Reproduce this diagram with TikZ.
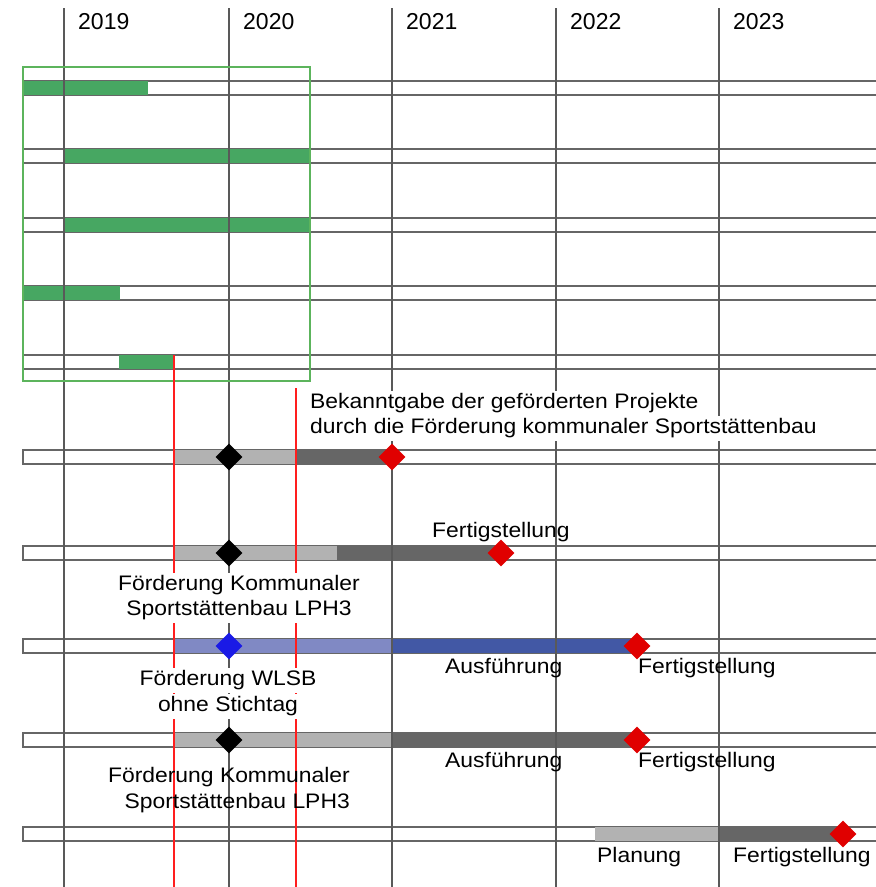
\documentclass[tikz,border=0pt]{standalone}
\usepackage{fontspec}
\setmainfont{Liberation Sans}
\newfontfamily\lblfont{Liberation Sans}[FakeStretch=1.09]
\usetikzlibrary{shapes.geometric}

\definecolor{barGreen}{RGB}{71,167,98}
\definecolor{boxGreen}{RGB}{92,180,92}
\definecolor{planGray}{RGB}{178,178,178}
\definecolor{workGray}{RGB}{102,102,102}
\definecolor{planBlue}{RGB}{128,137,196}
\definecolor{workBlue}{RGB}{66,88,165}
\definecolor{msRed}{RGB}{224,0,0}
\definecolor{msBlue}{RGB}{26,26,230}
\definecolor{cutRed}{RGB}{255,30,30}

\begin{document}
\begin{tikzpicture}[x=1pt,y=-1pt,
  row/.style={draw=black!60,line width=1.1pt,fill=white},
  yearline/.style={draw=black!65,line width=1.1pt},
  cutline/.style={draw=cutRed,line width=1.4pt},
  milestone/.style={diamond,inner sep=0pt,minimum size=27pt},
  lbl/.style={font=\lblfont\fontsize{21}{25}\selectfont,inner sep=0pt,text height=17pt,text depth=8pt},
  masked/.style={lbl,fill=white},
  yr/.style={font=\fontsize{23}{27}\selectfont,inner sep=0pt,anchor=base west}]
\useasboundingbox (0,0) rectangle (876,887);

% rows
\foreach \y in {88,156,225,293,362,457,553,646,740,834}
  \draw[row] (23,\y-7) rectangle (890,\y+7);

% bars
\fill[barGreen] (23,81) rectangle (148,95);
\fill[barGreen] (64,149) rectangle (310,163);
\fill[barGreen] (64,218) rectangle (310,232);
\fill[barGreen] (23,286) rectangle (120,300);
\fill[barGreen] (119,355) rectangle (174,369);
\fill[planGray] (174,450) rectangle (296,464);
\fill[workGray] (296,450) rectangle (392,464);
\fill[planGray] (174,546) rectangle (337,560);
\fill[workGray] (337,546) rectangle (501,560);
\fill[planBlue] (174,639) rectangle (392,653);
\fill[workBlue] (392,639) rectangle (637,653);
\fill[planGray] (174,733) rectangle (392,747);
\fill[workGray] (392,733) rectangle (637,747);
\fill[planGray] (595,827) rectangle (719,841);
\fill[workGray] (719,827) rectangle (843,841);

% years
\foreach \x/\n in {64/2019,229/2020,392/2021,556/2022,719/2023} {
  \draw[yearline] (\x,8) -- (\x,887);
  \node[yr] (y\n) at (\x+14,29) {\n};
}

\draw[boxGreen,line width=1.5pt] (23,67) rectangle (310,381);
\draw[cutline] (174,355) -- (174,887);
\draw[cutline] (296,388) -- (296,887);

% labels
\node[masked,anchor=base west] (bek1) at (310,408) {Bekanntgabe der geförderten Projekte};
\node[masked,anchor=base west] (bek2) at (310,433) {durch die Förderung kommunaler Sportstättenbau};
\node[lbl,anchor=base west] (fert2) at (432,537) {Fertigstellung};
\node[masked,anchor=base] (kom1) at (239,590) {Förderung Kommunaler};
\node[masked,anchor=base] (kom2) at (239,615) {Sportstättenbau LPH3};
\node[masked,anchor=base] (wlsb1) at (228,685) {Förderung WLSB};
\node[masked,anchor=base] (wlsb2) at (228,711) {ohne Stichtag};
\node[lbl,anchor=base west] (aus3) at (445,673) {Ausführung};
\node[lbl,anchor=base west] (fert3) at (638,673) {Fertigstellung};
\node[lbl,anchor=base west] (aus4) at (445,767) {Ausführung};
\node[lbl,anchor=base west] (fert4) at (638,767) {Fertigstellung};
\node[lbl,anchor=base east] (kom3) at (350,782) {Förderung Kommunaler};
\node[lbl,anchor=base east] (kom4) at (350,808) {Sportstättenbau LPH3};
\node[lbl,anchor=base west] (plan5) at (597,862) {Planung};
\node[lbl,anchor=base west] (fert5) at (733,862) {Fertigstellung};

% milestones
\node[milestone,fill=black] (k1) at (229,457) {};
\node[milestone,fill=msRed] (f1) at (392,457) {};
\node[milestone,fill=black] (k2) at (229,553) {};
\node[milestone,fill=msRed] (f2) at (501,553) {};
\node[milestone,fill=msBlue] (w3) at (229,646) {};
\node[milestone,fill=msRed] (f3) at (637,646) {};
\node[milestone,fill=black] (k4) at (229,740) {};
\node[milestone,fill=msRed] (f4) at (637,740) {};
\node[milestone,fill=msRed] (f5) at (843,834) {};
\end{tikzpicture}
\end{document}
